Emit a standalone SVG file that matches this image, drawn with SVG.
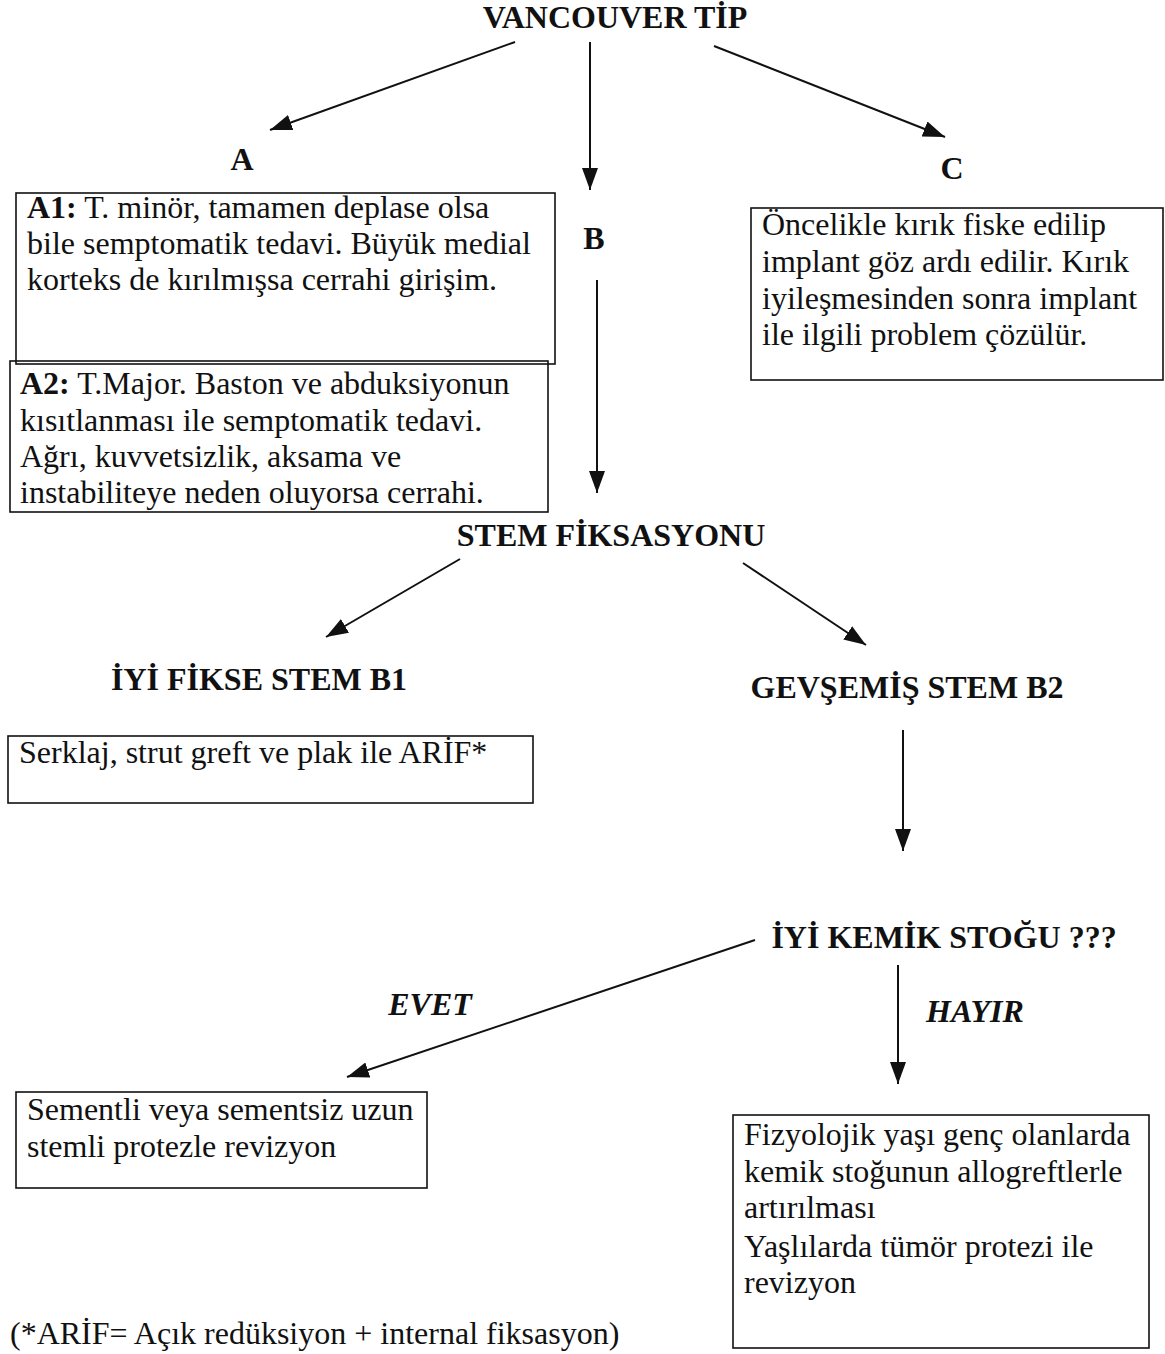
<svg xmlns="http://www.w3.org/2000/svg" width="1165" height="1354" viewBox="0 0 1165 1354">
<style>
.t{font-family:"Liberation Serif","Times New Roman",serif;font-size:32px;fill:#111}
.b{font-weight:bold}
.h{font-family:"Liberation Serif","Times New Roman",serif;font-size:32px;font-weight:bold;fill:#111}
.i{font-style:italic}
.box{fill:none;stroke:#111;stroke-width:1.6}
.c{fill:none;stroke:#111;stroke-width:2}
</style>
<defs>
<marker id="ar" markerUnits="userSpaceOnUse" markerWidth="24" markerHeight="18" refX="22" refY="8" orient="auto">
<path d="M0,0 L22,8 L0,16 Z" fill="#111"/>
</marker>
</defs>
<rect width="1165" height="1354" fill="#fff"/>

<g id="connectors">
<line class="c" x1="515" y1="42" x2="270" y2="130" marker-end="url(#ar)"/>
<line class="c" x1="590" y1="42" x2="590" y2="190" marker-end="url(#ar)"/>
<line class="c" x1="714" y1="46" x2="945" y2="137" marker-end="url(#ar)"/>
<line class="c" x1="597" y1="280" x2="597" y2="493" marker-end="url(#ar)"/>
<line class="c" x1="460" y1="559" x2="326" y2="637" marker-end="url(#ar)"/>
<line class="c" x1="743" y1="563" x2="866" y2="645" marker-end="url(#ar)"/>
<line class="c" x1="903" y1="730" x2="903" y2="851" marker-end="url(#ar)"/>
<line class="c" x1="755" y1="940" x2="347" y2="1077" marker-end="url(#ar)"/>
<line class="c" x1="898" y1="965" x2="898" y2="1084" marker-end="url(#ar)"/>
</g>

<g id="vancouver"><text class="h" x="615" y="28" text-anchor="middle">VANCOUVER TİP</text></g>
<g id="labelA"><text class="h" x="242" y="170" text-anchor="middle">A</text></g>
<g id="labelB"><text class="h" x="594" y="249" text-anchor="middle">B</text></g>
<g id="labelC"><text class="h" x="952" y="179" text-anchor="middle">C</text></g>

<g id="a1">
<rect class="box" x="16" y="193" width="539" height="171"/>
<text class="t" x="27" y="218"><tspan class="b">A1:</tspan> T. minör, tamamen deplase olsa</text>
<text class="t" x="27" y="254">bile semptomatik tedavi. Büyük medial</text>
<text class="t" x="27" y="290">korteks de kırılmışsa cerrahi girişim.</text>
</g>

<g id="a2">
<rect class="box" x="10" y="361" width="538" height="151"/>
<text class="t" x="20" y="394"><tspan class="b">A2:</tspan> T.Major. Baston ve abduksiyonun</text>
<text class="t" x="20" y="431">kısıtlanması ile semptomatik tedavi.</text>
<text class="t" x="20" y="467">Ağrı, kuvvetsizlik, aksama ve</text>
<text class="t" x="20" y="503">instabiliteye neden oluyorsa cerrahi.</text>
</g>

<g id="c">
<rect class="box" x="751" y="208" width="412" height="172"/>
<text class="t" x="762" y="235">Öncelikle kırık fiske edilip</text>
<text class="t" x="762" y="272">implant göz ardı edilir. Kırık</text>
<text class="t" x="762" y="309">iyileşmesinden sonra implant</text>
<text class="t" x="762" y="345">ile ilgili problem çözülür.</text>
</g>

<g id="stem"><text class="h" x="611" y="546" text-anchor="middle">STEM FİKSASYONU</text></g>
<g id="b1"><text class="h" x="259" y="690" text-anchor="middle">İYİ FİKSE STEM B1</text></g>
<g id="b2"><text class="h" x="907" y="698" text-anchor="middle">GEVŞEMİŞ STEM B2</text></g>

<g id="serklaj">
<rect class="box" x="8" y="736" width="525" height="67"/>
<text class="t" x="19" y="763">Serklaj, strut greft ve plak ile ARİF*</text>
</g>

<g id="kemik"><text class="h" x="944" y="948" text-anchor="middle">İYİ KEMİK STOĞU ???</text></g>
<g id="evet"><text class="h i" x="430" y="1015" text-anchor="middle">EVET</text></g>
<g id="hayir"><text class="h i" x="975" y="1022" text-anchor="middle">HAYIR</text></g>

<g id="sementli">
<rect class="box" x="16" y="1092" width="411" height="96"/>
<text class="t" x="27" y="1120">Sementli veya sementsiz uzun</text>
<text class="t" x="27" y="1157">stemli protezle revizyon</text>
</g>

<g id="fizyolojik">
<rect class="box" x="733" y="1115" width="416" height="233"/>
<text class="t" x="744" y="1145">Fizyolojik yaşı genç olanlarda</text>
<text class="t" x="744" y="1182">kemik stoğunun allogreftlerle</text>
<text class="t" x="744" y="1218">artırılması</text>
<text class="t" x="744" y="1257">Yaşlılarda tümör protezi ile</text>
<text class="t" x="744" y="1293">revizyon</text>
</g>

<g id="footnote"><text class="t" x="10" y="1344">(*ARİF= Açık redüksiyon + internal fiksasyon)</text></g>
</svg>
